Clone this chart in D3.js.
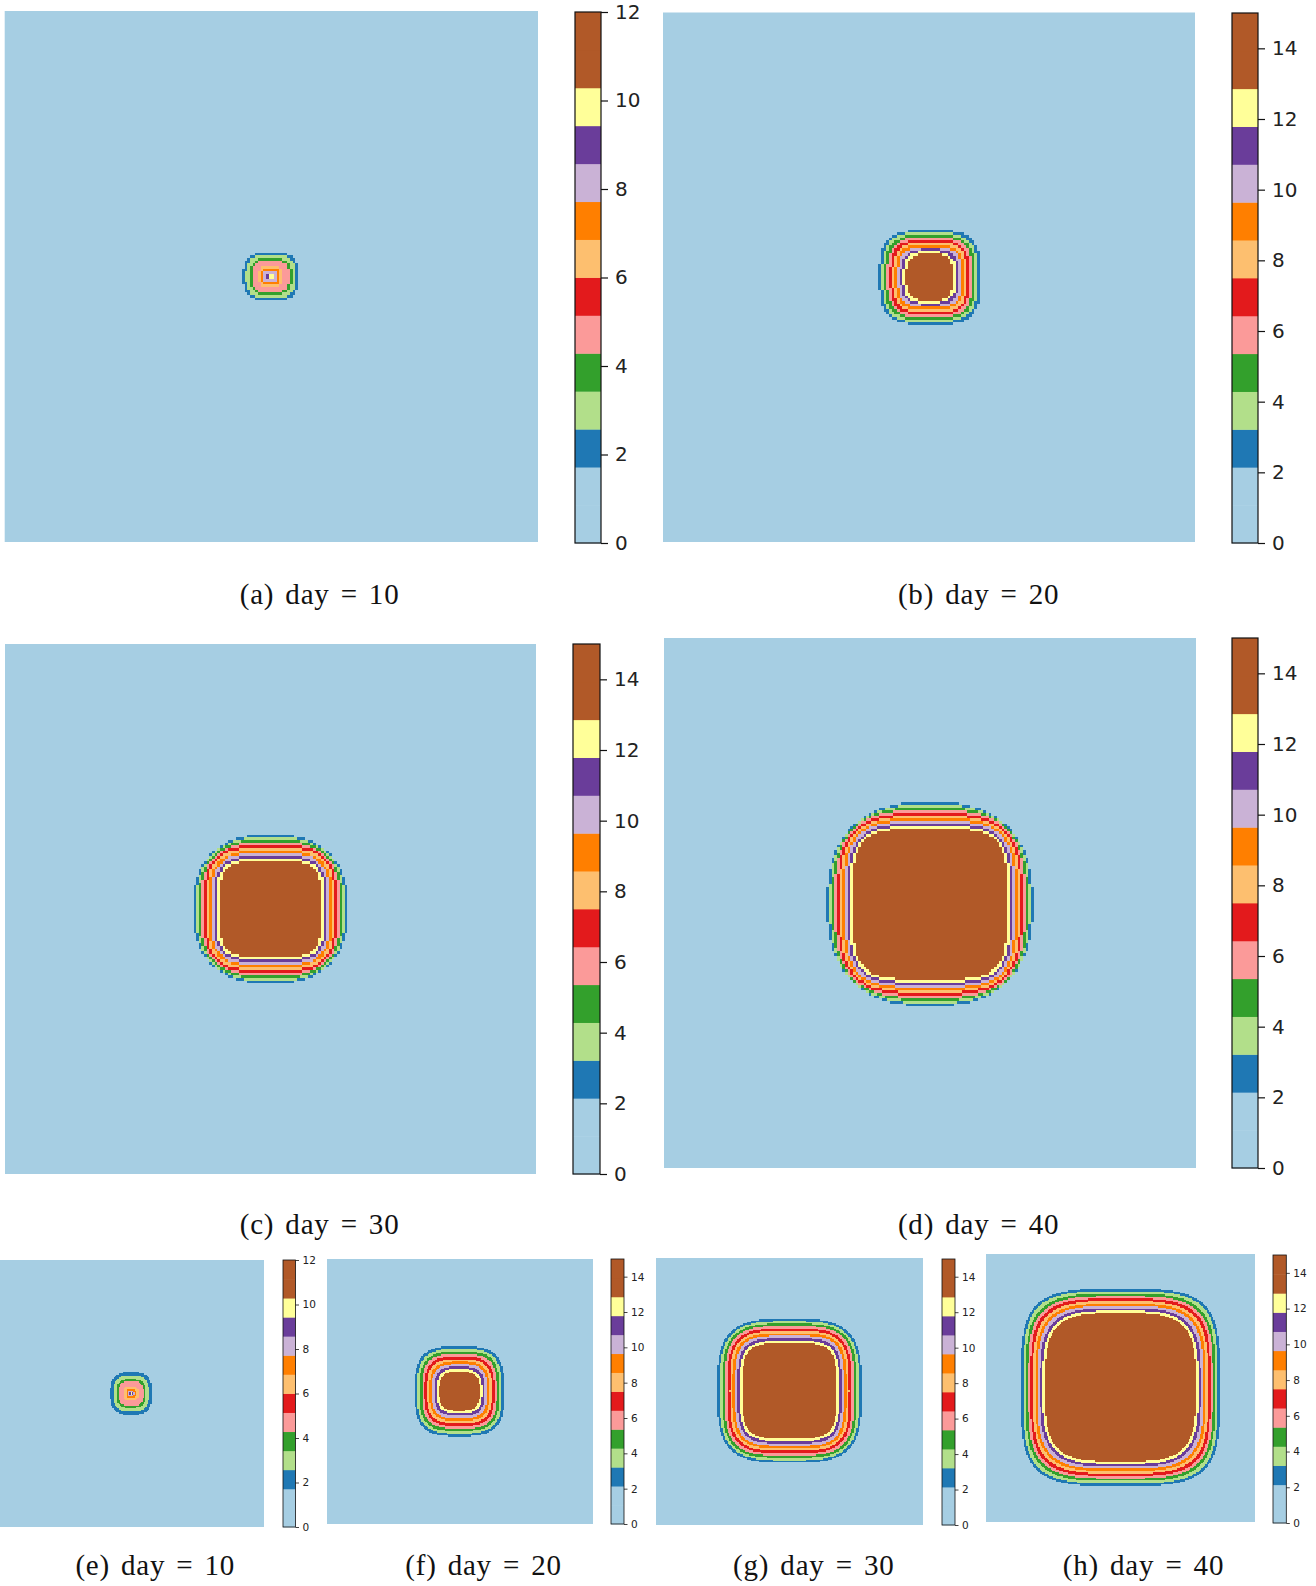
<!DOCTYPE html>
<html>
<head>
<meta charset="utf-8">
<script src="https://cdn.jsdelivr.net/npm/d3@7"></script>
<style>
  body { margin: 0; background: #fff; }
  svg { display: block; }
</style>
</head>
<body>
<div id="chart"></div>
<script>
const W = 1316, H = 1586;
const N = 200; // simulation grid, cells per side

// Paired colormap, one colour per contour ring (outside -> core)
const paired = ["#a6cee3", "#1f78b4", "#b2df8a", "#33a02c", "#fb9a99", "#e31a1c",
                "#fdbf6f", "#ff7f00", "#cab2d6", "#6a3d9a", "#ffff99", "#b15928"];

const captions = ["(a) day = 10", "(b) day = 20", "(c) day = 30", "(d) day = 40",
                  "(e) day = 10", "(f) day = 20", "(g) day = 30", "(h) day = 40"];
const vmax = [12, 15, 15, 15, 12, 15, 15, 15];
const ticks12 = [0, 2, 4, 6, 8, 10, 12];
const ticks15 = [0, 2, 4, 6, 8, 10, 12, 14];

// ring boundaries in grid cells, outer edge of blue ring first, last = edge of brown core
const centerX = [99.8, 100.3, 100, 100, 99.3, 99.6, 100, 100];
const centerY = [100, 100, 100, 100.4, 100, 99.8, 99.5, 99.5];

const rxA = [10.4, 9.4, 7.9, 6.9, 4.6, 4.6, 3.5, 2.6, 1.6, 0.8, 0];
const ryA = [9.3, 8.5, 7.1, 6.2, 4.2, 4.2, 3.2, 2.4, 1.5, 0.8, 0];
const pA  = [2.8, 2.8, 2.8, 2.8, 2.8, 2.8, 2.8, 2.8, 2.8, 2.8, 2.8];

const rxB = [18.9, 17.9, 16.9, 15.9, 14.9, 13.9, 12.9, 11.9, 10.9, 9.9, 8.9];
const ryB = [17.9, 17.0, 16.1, 15.2, 14.3, 13.4, 12.5, 11.5, 10.6, 9.7, 8.8];
const pB  = [3.4, 3.4, 3.3, 3.3, 3.3, 3.2, 3.2, 3.2, 3.1, 3.1, 3.1];

const rxC = [29.2, 28.2, 27.2, 26.2, 25.2, 24.2, 23.2, 22.2, 21.2, 20.2, 19.2];
const ryC = [28.3, 27.3, 26.3, 25.3, 24.3, 23.3, 22.2, 21.2, 20.2, 19.2, 18.2];
const pC  = [2.4, 2.6, 2.8, 3.0, 3.2, 3.3, 3.5, 3.7, 3.8, 4.0, 4.1];

const rxD = [38.7, 37.7, 36.8, 35.8, 34.8, 33.9, 32.9, 31.9, 30.9, 30.0, 29.0];
const ryD = [38.5, 37.5, 36.5, 35.5, 34.4, 33.4, 32.4, 31.4, 30.4, 29.3, 28.3];
const pD  = [2.5, 2.7, 2.9, 3.1, 3.3, 3.4, 3.6, 3.8, 3.9, 4.1, 4.2];

const rxE = [15.9, 13.4, 10.8, 9.3, 5.5, 5.5, 3.4, 2.4, 1.4, 0.6, 0];
const ryE = [15.8, 13.3, 10.7, 9.2, 5.4, 5.4, 3.3, 2.3, 1.4, 0.6, 0];
const pE  = [3.0, 3.0, 3.0, 3.0, 3.0, 3.0, 3.0, 3.0, 3.0, 3.0, 3.0];

const rxF = [33.5, 31.7, 29.8, 28.0, 26.2, 24.3, 22.5, 20.7, 18.9, 17.0, 15.2];
const ryF = [33.8, 31.9, 30.0, 28.1, 26.2, 24.3, 22.4, 20.5, 18.6, 16.7, 14.8];
const pF  = [3.3, 3.3, 3.3, 3.3, 3.2, 3.2, 3.2, 3.2, 3.1, 3.1, 3.1];

const rxG = [54.0, 52.1, 50.2, 48.3, 46.4, 44.5, 42.6, 40.7, 38.8, 36.9, 35.0];
const ryG = [53.9, 52.1, 50.3, 48.5, 46.7, 44.8, 43.0, 41.2, 39.4, 37.5, 35.7];
const pG  = [3.4, 3.5, 3.6, 3.7, 3.7, 3.8, 3.9, 4.0, 4.0, 4.1, 4.2];

const rxH = [74.0, 72.2, 70.4, 68.6, 66.8, 65.0, 63.2, 61.4, 59.6, 57.8, 56.0];
const ryH = [73.5, 71.7, 69.9, 68.1, 66.3, 64.4, 62.6, 60.8, 59.0, 57.2, 55.3];
const pH  = [4.0, 4.0, 3.9, 3.9, 3.9, 3.8, 3.8, 3.8, 3.7, 3.7, 3.7];

const ringRx = [rxA, rxB, rxC, rxD, rxE, rxF, rxG, rxH];
const ringRy = [ryA, ryB, ryC, ryD, ryE, ryF, ryG, ryH];
const ringP  = [pA, pB, pC, pD, pE, pF, pG, pH];

// page layout: plot box, colorbar box [x, y, w, h], caption centre
const layout = [
  {box: [4.7, 11, 533.3, 531], cb: [575, 12, 26, 531], cap: [319.6, 604], big: true},
  {box: [663, 12.5, 532, 529.5], cb: [1232, 13, 26, 530], cap: [978.6, 604], big: true},
  {box: [5, 644, 531, 530], cb: [573, 644, 27, 530], cap: [319.6, 1234], big: true},
  {box: [664, 638, 532, 530], cb: [1232, 638, 26, 530], cap: [978.6, 1234], big: true},
  {box: [0, 1260, 264, 267], cb: [283, 1260, 12.5, 267], cap: [155.3, 1575], big: false},
  {box: [327, 1259, 266, 265], cb: [611, 1259, 13, 265], cap: [483.5, 1575], big: false},
  {box: [656, 1258, 267, 267], cb: [942, 1259, 13, 266], cap: [813.8, 1575], big: false},
  {box: [986, 1254, 269, 268], cb: [1273, 1255, 13.3, 268], cap: [1143.5, 1575], big: false}
];

const svg = d3.select("#chart").append("svg")
  .attr("width", W).attr("height", H)
  .attr("font-family", "DejaVu Sans, sans-serif");

function ringAt(k, x, y) {
  const dx = Math.abs(x - centerX[k]), dy = Math.abs(y - centerY[k]);
  const rx = ringRx[k], ry = ringRy[k], p = ringP[k];
  let ring = 0;
  for (let r = 0; r < rx.length; r++) {
    if (rx[r] <= 0) break;
    const v = Math.pow(dx / rx[r], p[r]) + Math.pow(dy / ry[r], p[r]);
    if (v <= 1) ring = r + 1; else break;
  }
  return ring;
}

layout.forEach((L, k) => {
  const [bx, by, bw, bh] = L.box;
  const x = d3.scaleLinear().domain([0, N]).range([bx, bx + bw]);
  const y = d3.scaleLinear().domain([0, N]).range([by, by + bh]);
  const g = svg.append("g").attr("class", "panel");

  g.append("rect").attr("x", bx).attr("y", by).attr("width", bw).attr("height", bh)
    .attr("fill", paired[0]);

  // run-length rows of the contour field
  const runs = [];
  for (let j = 0; j < N; j++) {
    let start = 0, cur = ringAt(k, 0.5, j + 0.5);
    for (let i = 1; i <= N; i++) {
      const r = i < N ? ringAt(k, i + 0.5, j + 0.5) : -1;
      if (r !== cur) {
        if (cur > 0) runs.push({i0: start, i1: i, j: j, ring: cur});
        start = i; cur = r;
      }
    }
  }
  g.append("g").attr("shape-rendering", "crispEdges")
    .selectAll("rect").data(runs).join("rect")
    .attr("x", d => x(d.i0))
    .attr("y", d => y(d.j))
    .attr("width", d => x(d.i1) - x(d.i0))
    .attr("height", d => y(d.j + 1) - y(d.j))
    .attr("fill", d => paired[d.ring]);

  // colorbar
  const [cx, cy, cw, ch] = L.cb;
  const vm = vmax[k];
  const levels = d3.range(15).map(i => i * vm / 14);
  const bandColors = [paired[0]].concat(paired, [paired[11]]);
  const color = d3.scaleThreshold().domain(levels.slice(1, 14)).range(bandColors);
  const cyScale = d3.scaleLinear().domain([0, vm]).range([cy + ch, cy]);
  const bands = d3.range(14).map(i => ({lo: levels[i], hi: levels[i + 1]}));
  const cbg = svg.append("g").attr("class", "colorbar");
  cbg.selectAll("rect").data(bands).join("rect")
    .attr("x", cx).attr("width", cw)
    .attr("y", d => cyScale(d.hi))
    .attr("height", d => cyScale(d.lo) - cyScale(d.hi) + 0.4)
    .attr("fill", d => color((d.lo + d.hi) / 2));
  cbg.append("rect").attr("x", cx).attr("y", cy).attr("width", cw).attr("height", ch)
    .attr("fill", "none").attr("stroke", "#111").attr("stroke-width", L.big ? 1.2 : 0.8);

  const axis = d3.axisRight(cyScale)
    .tickValues(vm === 12 ? ticks12 : ticks15)
    .tickFormat(d3.format("d"))
    .tickSize(L.big ? 7 : 3.5)
    .tickPadding(L.big ? 7 : 3.5);
  const ax = cbg.append("g").attr("transform", `translate(${cx + cw},0)`).call(axis);
  ax.select(".domain").remove();
  ax.selectAll("line").attr("stroke", "#111").attr("stroke-width", L.big ? 1.2 : 0.8);
  ax.selectAll("text").attr("fill", "#222")
    .attr("font-size", L.big ? 20 : 10.5)
    .attr("font-family", "DejaVu Sans, sans-serif");

  // caption, LaTeX-like spacing around "="
  svg.append("text")
    .attr("x", L.cap[0]).attr("y", L.cap[1])
    .attr("text-anchor", "middle")
    .attr("font-family", "Liberation Serif, DejaVu Serif, serif")
    .attr("font-size", 29)
    .attr("letter-spacing", 0.8)
    .attr("word-spacing", 3)
    .attr("fill", "#111")
    .text(captions[k]);
});
</script>
</body>
</html>
